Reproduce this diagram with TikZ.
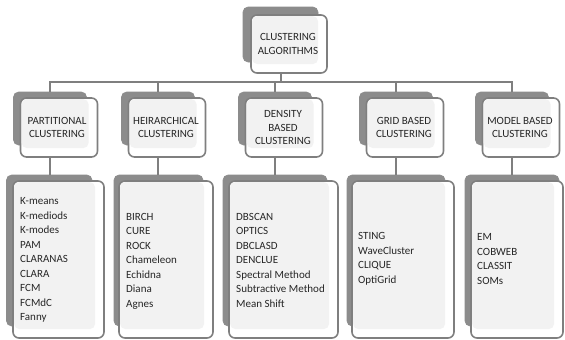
\documentclass[tikz,border=0pt]{standalone}
\usepackage{fontspec}
\setmainfont{Carlito}
\usetikzlibrary{fit}
\definecolor{shade}{HTML}{8C8C8C}
\definecolor{edge}{HTML}{7F7F7F}
\definecolor{innerfill}{HTML}{F2F2F2}
\definecolor{ink}{HTML}{262626}
\tikzset{
 backbox/.style={fill=shade, draw=shade, line width=0.6pt, rounded corners=5pt, inner sep=0pt},
 frontbox/.style={fill=white, draw=edge, line width=1.6pt, rounded corners=6pt, inner sep=0pt},
 innerbox/.style={fill=innerfill, rounded corners=5pt, inner sep=0pt},
 conn/.style={draw=edge, line width=2pt},
 headtext/.style={font=\fontsize{11}{13.5}\selectfont, text=ink, align=center, inner sep=0pt},
 itemtext/.style={font=\fontsize{11}{14.5}\selectfont, text=ink, align=left, inner sep=0pt, anchor=west},
}
\newcommand\clgroup[9]{%
 \node[backbox, fit={(#2,#3) (#4,#5)}] (#1B) {};
 \node[frontbox, fit={(#6,#7) (#8,#9)}] (#1F) {};
 \node[innerbox, fit={(#6+1.2,#7+1.2) (#8-9,#9-9)}] (#1I) {};
}
\begin{document}
\begin{tikzpicture}[x=1pt,y=-1pt]
\useasboundingbox (0,0) rectangle (565,340);
% top
\clgroup{top}{243}{7}{318}{62}{251}{15}{327}{73}
\node[headtext] (topT) at (288,44) {CLUSTERING\\ALGORITHMS};
% middle row
\clgroup{pa}{13.5}{92}{86.5}{145}{20.5}{98}{97.5}{157}
\clgroup{hi}{121.5}{92}{194.5}{145}{128.5}{98}{205.5}{157}
\clgroup{de}{238.5}{92}{311.5}{145}{245.5}{98}{322.5}{157}
\clgroup{gr}{359.5}{92}{432.5}{145}{366.5}{98}{443.5}{157}
\clgroup{mo}{475.5}{92}{548.5}{145}{482.5}{98}{559.5}{157}
\node[headtext] (paT) at ([xshift=-2pt]paF.center) {PARTITIONAL\\CLUSTERING};
\node[headtext] (hiT) at ([xshift=-1pt]hiF.center) {HEIRARCHICAL\\CLUSTERING};
\node[headtext] (deT) at ([xshift=-1pt]deF.center) {DENSITY\\BASED\\CLUSTERING};
\node[headtext] (grT) at ([xshift=-1pt]grF.center) {GRID BASED\\CLUSTERING};
\node[headtext] (moT) at ([xshift=-1pt]moF.center) {MODEL BASED\\CLUSTERING};
% bottom row
\clgroup{pl}{6.5}{175}{92}{326}{13}{181}{104}{338}
\clgroup{hl}{114}{175}{203}{326}{119}{181}{213}{338}
\clgroup{dl}{223}{175}{327}{326}{229}{181}{338}{338}
\clgroup{gl}{347}{175}{445}{326}{352}{181}{454}{338}
\clgroup{ml}{465}{175}{559}{326}{471}{181}{563}{338}
\node[itemtext] (plT) at (20,260) {K-means\\K-mediods\\K-modes\\PAM\\CLARANAS\\CLARA\\FCM\\FCMdC\\Fanny};
\node[itemtext] (hlT) at (126,261) {BIRCH\\CURE\\ROCK\\Chameleon\\Echidna\\Diana\\Agnes};
\node[itemtext] (dlT) at (236,260) {DBSCAN\\OPTICS\\DBCLASD\\DENCLUE\\Spectral Method\\Subtractive Method\\Mean Shift};
\node[itemtext] (glT) at (358,259) {STING\\WaveCluster\\CLIQUE\\OptiGrid};
\node[itemtext] (mlT) at (477,259) {EM\\COBWEB\\CLASSIT\\SOMs};
% connectors
\coordinate (bus) at (281,82);
\draw[conn] (topB.center |- topF.south) -- (topB.center |- bus);
\draw[conn] (paB.north) -- (paB.north |- bus) -- (moB.north |- bus) -- (moB.north);
\draw[conn] (hiB.north |- bus) -- (hiB.north);
\draw[conn] (deB.north |- bus) -- (deB.north);
\draw[conn] (grB.north |- bus) -- (grB.north);
\draw[conn] (paB.center |- paF.south) -- (paB.center |- plB.north);
\draw[conn] (hiB.center |- hiF.south) -- (hiB.center |- hlB.north);
\draw[conn] (deB.center |- deF.south) -- (deB.center |- dlB.north);
\draw[conn] (grB.center |- grF.south) -- (grB.center |- glB.north);
\draw[conn] (moB.center |- moF.south) -- (moB.center |- mlB.north);
\end{tikzpicture}
\end{document}
